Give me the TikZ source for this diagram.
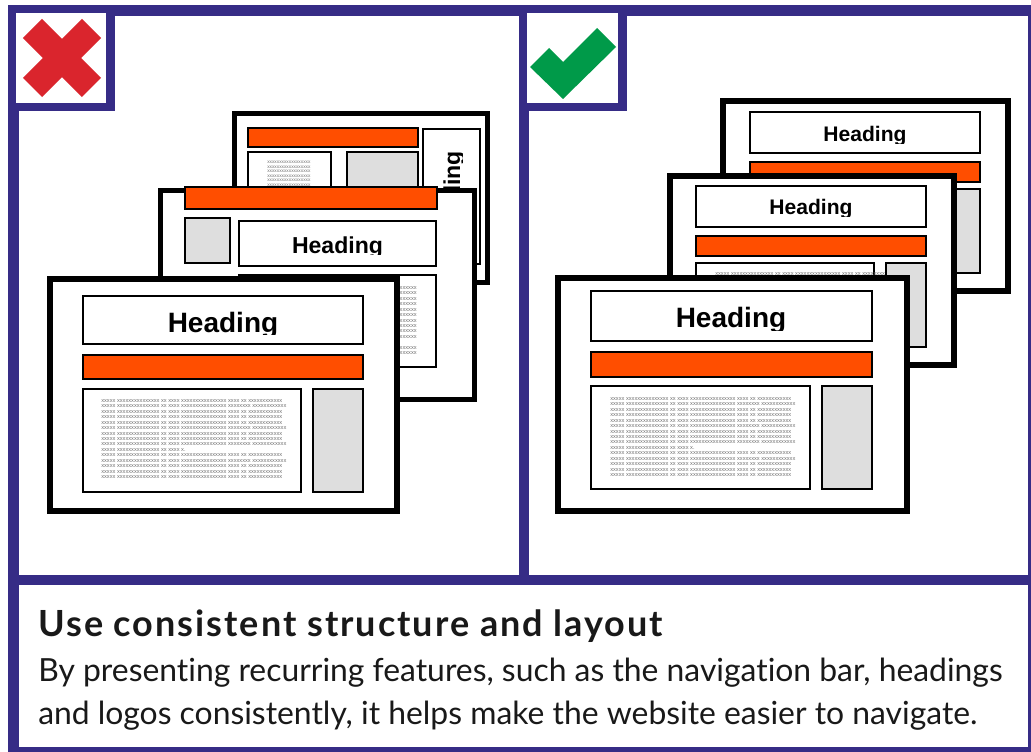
\documentclass[tikz,border=0pt]{standalone}
\usepackage{fontspec}
\setmainfont{Liberation Sans}
\newfontfamily\gillish[Ligatures=NoCommon]{Lato}

\definecolor{frameblue}{RGB}{54,44,134}
\definecolor{navorange}{RGB}{255,78,0}
\definecolor{boxgrey}{RGB}{222,222,222}
\definecolor{crossred}{RGB}{218,37,45}
\definecolor{tickgreen}{RGB}{0,154,73}

\newcommand{\bighead}{\fontsize{21}{21}\selectfont\bfseries}
\newcommand{\midhead}{\fontsize{17.3}{17.3}\selectfont\bfseries}
\newcommand{\smallhead}{\fontsize{15.8}{15.8}\selectfont\bfseries}
\newcommand{\tinyx}{\fontsize{4.25}{4.1}\selectfont}
\newcommand{\tinierx}{\fontsize{3.6}{3.4}\selectfont}

\newcommand{\xrow}{xxxxx xxxxxxxxxxxxxxx xx xxxx xxxxxxxxxxxxxxxx xxxx xx xxxxxxxxxxxx}
\newcommand{\xrowb}{xxxxx xxxxxxxxxxxxxxx xx xxxx xxxxxxxxxxxxxxxx xxxxxxxx xxxxxxxxxxxx}
\newcommand{\xshort}{xxxxx xxxxxxxxxxxxxxx xx xxxx x.}
\newcommand{\xblock}{\xrow\\\xrowb\\\xrow\\\xrow\\\xrow\\\xrowb\\\xrow\\\xrow\\\xrowb\\\xshort\\\xrow\\\xrowb\\\xrow\\\xrow\\\xrow}
\newcommand{\xend}{xx xxxxxxxxx}
\newcommand{\xblockb}{\xend\\\xend\\\xend\\\xend\\\xend\\\xend\\\xend\\\xend\\\xend\\\xend\\ \\\xend\\\xend}
\newcommand{\xcol}{xxxxxxxxxxxxxxxxxx\\xxxxxxxxxxxxxxxxxx\\xxxxxxxxxxxxxxxxxx\\xxxxxxxxxxxxxxxxxx\\xxxxxxxxxxxxxxxxxx\\xxxxxxxxxxxxxxxxxx}

\tikzset{
	page/.style={draw=black, fill=white, line width=4.2pt},
	box/.style={draw=black, fill=white, line width=1.1pt},
	navbar/.style={box, fill=navorange},
	sidebar/.style={box, fill=boxgrey},
	iconbox/.style={draw=frameblue, fill=white, line width=6.4pt},
	filler/.style={inner sep=0pt, align=left, text=black!55},
	headtext/.style={inner sep=0pt, text=black},
	caption/.style={inner sep=0pt, anchor=base west, text=black!90}
}

\begin{document}
\begin{tikzpicture}[x=0.75pt,y=0.75pt,yscale=-1,xscale=1]
	\useasboundingbox (0,0) rectangle (1031,752);
	
	%Shape: Frame
	\fill [frameblue] (8,5) rectangle (1031,752);
	\fill [white] (19,16) rectangle (519,575);
	\fill [white] (529,16) rectangle (1028,575);
	\fill [white] (19,585) rectangle (1028,747);
	
	%Shape: Icon boxes
	\draw [iconbox] (12,9) rectangle (110.5,107);
	\draw [iconbox] (523,9) rectangle (622.5,107);
	%Shape: Cross
	\draw [crossred, line width=20.2pt] (32.5,28.5) -- (91.5,87.5);
	\draw [crossred, line width=20.2pt] (32.5,87.5) -- (91.5,28.5);
	%Shape: Tick
	\fill [tickgreen] (530,67) -- (549,48) -- (563,62) -- (597,28) -- (616,47) -- (563,99) -- cycle;
	
	%Shape: Left back page
	\draw [page] (234.5,113.5) rectangle (487.5,282.5);
	\draw [navbar] (248,128) rectangle (418,147);
	\draw [box] (248,152) rectangle (331,262);
	% Text Node
	\node [filler, font=\tinierx, anchor=north west] (txtA) at (267,161) {\xcol};
	\draw [sidebar] (347,152) rectangle (418,262);
	\draw [box] (423,129) rectangle (480,264);
	\begin{scope}
		\clip (423,129) rectangle (462,264);
		% Text Node
		\node [headtext, font=\midhead, rotate=90, anchor=base] (headA) at (460,196.5) {Heading};
	\end{scope}
	
	%Shape: Left middle page
	\draw [page] (160.5,190.5) rectangle (474.5,399.5);
	\draw [navbar] (185,187) rectangle (437,209);
	\draw [sidebar] (185,218) rectangle (230,263);
	\draw [box] (239,221) rectangle (436,266);
	\begin{scope}
		\clip (239,221) rectangle (436,255);
		% Text Node
		\node [headtext, font=\midhead, anchor=base] (headB) at (337.5,253) {Heading};
	\end{scope}
	\draw [box] (239,275) rectangle (436,367);
	% Text Node
	\node [filler, font=\tinyx, anchor=north east] (txtB) at (417,286) {\xblockb};
	
	%Shape: Left front page
	\draw [page] (50,279) rectangle (397,511);
	\draw [box] (83,296) rectangle (363,344);
	\begin{scope}
		\clip (83,296) rectangle (363,334);
		% Text Node
		\node [headtext, font=\bighead, anchor=base] (headC) at (223,332) {Heading};
	\end{scope}
	\draw [navbar] (83,355) rectangle (363,379);
	\draw [box] (83,389) rectangle (301,492);
	% Text Node
	\node [filler, font=\tinyx, anchor=north west] (txtC) at (101,399) {\xblock};
	\draw [sidebar] (313,389) rectangle (363,492);
	
	%Shape: Right back page
	\draw [page] (723,101) rectangle (1008,291);
	\draw [box] (750,112) rectangle (980,153);
	\begin{scope}
		\clip (750,112) rectangle (980,143.5);
		% Text Node
		\node [headtext, font=\smallhead, anchor=base] (headD) at (865,142) {Heading};
	\end{scope}
	\draw [navbar] (750,162) rectangle (980,182);
	\draw [box] (750,189) rectangle (928,273);
	\draw [sidebar] (940,189) rectangle (980,273);
	
	%Shape: Right middle page
	\draw [page] (670,176) rectangle (954,365);
	\draw [box] (696,186) rectangle (926,227);
	\begin{scope}
		\clip (696,186) rectangle (926,217);
		% Text Node
		\node [headtext, font=\smallhead, anchor=base] (headE) at (811,215) {Heading};
	\end{scope}
	\draw [navbar] (696,236) rectangle (926,256);
	\draw [box] (696,263) rectangle (874,347);
	% Text Node
	\node [filler, font=\tinyx, anchor=north west] (txtE) at (715,272) {\xrow};
	\draw [sidebar] (886,263) rectangle (926,347);
	
	%Shape: Right front page
	\draw [page] (558,278) rectangle (907,511);
	\draw [box] (591,291) rectangle (872,341);
	\begin{scope}
		\clip (591,291) rectangle (872,330);
		% Text Node
		\node [headtext, font=\bighead, anchor=base] (headF) at (731,327) {Heading};
	\end{scope}
	\draw [navbar] (591,352) rectangle (872,377);
	\draw [box] (591,386) rectangle (810,489);
	% Text Node
	\node [filler, font=\tinyx, anchor=north west] (txtF) at (610,397) {\xblock};
	\draw [sidebar] (822,386) rectangle (872,489);
	
	% Text Node
	\node [caption, font=\gillish\bfseries\fontsize{27}{30}\selectfont\addfontfeatures{LetterSpace=5.5}] (title) at (38,636) {Use consistent structure and layout};
	% Text Node
	\node [caption, font=\gillish\fontsize{23.9}{26}\selectfont] (lineone) at (38,681) {By presenting recurring features, such as the navigation bar, headings};
	% Text Node
	\node [caption, font=\gillish\fontsize{23.9}{26}\selectfont] (linetwo) at (38,724) {and logos consistently, it helps make the website easier to navigate.};
	
\end{tikzpicture}
\end{document}
